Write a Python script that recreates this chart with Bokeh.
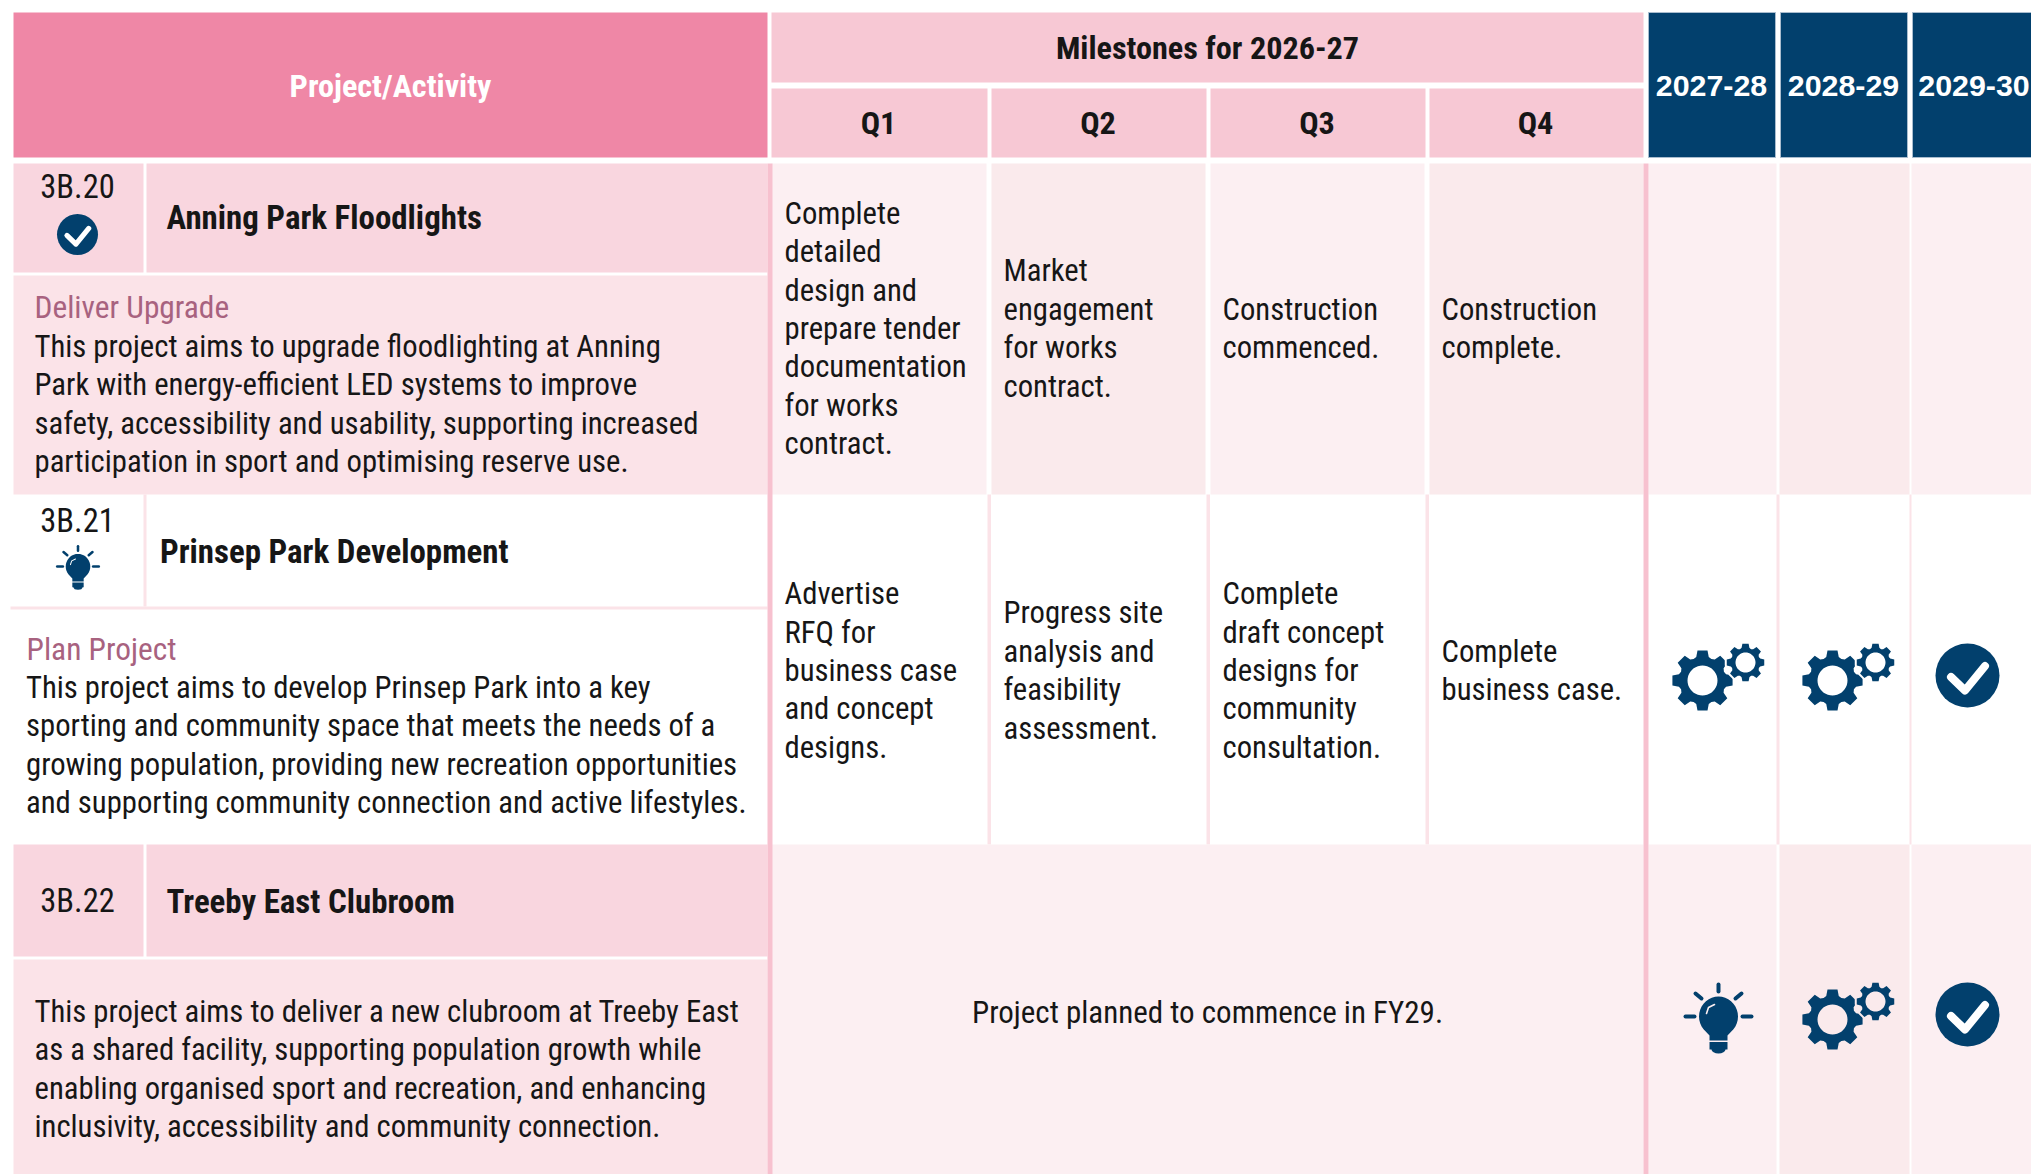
import math
from bokeh.plotting import figure
from bokeh.models import Range1d
from bokeh.core.properties import value
from bokeh.embed import file_html
from bokeh.resources import INLINE

# ---- table content ----
head_project = "Project/Activity"
head_milestones = "Milestones for 2026-27"
quarters = ["Q1", "Q2", "Q3", "Q4"]
years = ["2027-28", "2028-29", "2029-30"]
ids = ["3B.20", "3B.21", "3B.22"]
titles = ["Anning Park Floodlights", "Prinsep Park Development", "Treeby East Clubroom"]
kinds = ["Deliver Upgrade", "Plan Project", ""]
desc_1 = ["This project aims to upgrade floodlighting at Anning",
          "Park with energy-efficient LED systems to improve",
          "safety, accessibility and usability, supporting increased",
          "participation in sport and optimising reserve use."]
desc_2 = ["This project aims to develop Prinsep Park into a key",
          "sporting and community space that meets the needs of a",
          "growing population, providing new recreation opportunities",
          "and supporting community connection and active lifestyles."]
desc_3 = ["This project aims to deliver a new clubroom at Treeby East",
          "as a shared facility, supporting population growth while",
          "enabling organised sport and recreation, and enhancing",
          "inclusivity, accessibility and community connection."]
m1 = [["Complete", "detailed", "design and", "prepare tender", "documentation", "for works", "contract."],
      ["Market", "engagement", "for works", "contract."],
      ["Construction", "commenced."],
      ["Construction", "complete."]]
m2 = [["Advertise", "RFQ for", "business case", "and concept", "designs."],
      ["Progress site", "analysis and", "feasibility", "assessment."],
      ["Complete", "draft concept", "designs for", "community", "consultation."],
      ["Complete", "business case."]]
m3_note = "Project planned to commence in FY29."
status_row2 = ["gears", "gears", "check"]
status_row3 = ["bulb", "gears", "check"]

# ---- layout (page pixels) ----
FONT = "Roboto Condensed"
NAVY = "#02406D"
INK = "#161616"
SZ = "30.7px"
BOLD = "32.2px"
TITLE = "32.9px"
LH = 38.4
LIGHT = "#FCEFF2"
DARK = "#FAEAEC"
q_edges = [(771, 987), (991, 1206), (1210, 1425), (1429, 1643)]
q_text_x = [784, 1003, 1222, 1441]
y_edges = [(1648, 1776), (1779, 1909), (1911, 2031)]
y_head = [(1648, 1775), (1780, 1907), (1912, 2032)]
rows = [(163, 494), (494, 844), (844, 1174)]
title_bot = [272, 606, 956]
desc_top = [275, 609, 959]

p = figure(width=2031, height=1174, x_range=Range1d(0, 2031), y_range=Range1d(1174, 0),
           output_backend="svg", toolbar_location=None, min_border=0, outline_line_color=None,
           background_fill_color="white", border_fill_color="white")
p.axis.visible = False
p.grid.visible = False


def box(x0, x1, y0, y1, c):
    p.quad(left=[x0], right=[x1], top=[y0], bottom=[y1], fill_color=c, line_color=None)


def txt(x, y, s, size=SZ, color=INK, align="left", bold=False, font=FONT):
    p.text([x], [y], text=[s], text_font=value(font), text_font_size=value(size),
           text_color=color, text_align=align, text_baseline="middle",
           text_font_style="bold" if bold else "normal")


def gear(cx, cy, r, hole, halo=None):
    xs, ys = [], []
    teeth = 8
    for i in range(teeth):
        a = 2 * math.pi * i / teeth - math.pi / 2
        w = math.pi / teeth
        for da, f in [(-0.66 * w, 0.80), (-0.42 * w, 1.0), (0.42 * w, 1.0), (0.66 * w, 0.80), (w, 0.76)]:
            xs.append(cx + r * f * math.cos(a + da))
            ys.append(cy + r * f * math.sin(a + da))
    if halo:
        p.patch(xs, ys, fill_color=halo, line_color=halo, line_width=4)
    hxs = [cx + hole * math.cos(2 * math.pi * k / 40) for k in range(40)]
    hys = [cy + hole * math.sin(2 * math.pi * k / 40) for k in range(40)]
    p.multi_polygons(xs=[[[xs, hxs]]], ys=[[[ys, hys]]], fill_color=NAVY, line_color=None)


def gears(x, cy, bg):
    gear(x, cy, 30.5, 15)
    gear(x + 43, cy - 18, 19, 10, halo=bg)


def check(cx, cy, r):
    p.circle([cx], [cy], radius=r, fill_color=NAVY, line_color=None)
    k = r / 32
    p.line([cx - 16.5 * k, cx - 2.5 * k, cx + 17.5 * k], [cy + 1.5 * k, cy + 15 * k, cy - 9.5 * k],
           line_color="white", line_width=8 * k, line_cap="round", line_join="round")


def bulb(cx, gy, k, fill):
    t = [math.radians(a) for a in range(140, 401, 10)]
    xs = [cx + 19.5 * k * math.cos(a) for a in t]
    ys = [gy + 20 * k * math.sin(a) for a in t]
    xs += [cx + 9 * k, cx + 9 * k, cx - 9 * k, cx - 9 * k]
    ys += [gy + 19 * k, gy + 24 * k, gy + 24 * k, gy + 19 * k]
    p.patch(xs, ys, fill_color=NAVY, line_color=None)
    p.quad(left=[cx - 9 * k], right=[cx + 9 * k], top=[gy + 25.5 * k], bottom=[gy + 33 * k],
           fill_color=NAVY, line_color=None)
    p.ellipse([cx], [gy + 33 * k], width=[14 * k], height=[8 * k], fill_color=NAVY, line_color=None)
    rays = [((0, -32), (0, -25)), ((-23, -23), (-17, -18)), ((23, -23), (17, -18)),
            ((-33, 0), (-24, 0)), ((33, 0), (24, 0))]
    for a, b in rays:
        p.line([cx + a[0] * k, cx + b[0] * k], [gy + a[1] * k, gy + b[1] * k], line_color=NAVY,
               line_width=4 * k, line_cap="round")
    p.line([cx - 12 * k, cx - 10 * k, cx - 4 * k], [gy - 3 * k, gy - 9 * k, gy - 12 * k], line_color=fill,
           line_width=1.6 * k, line_cap="round")


# header
box(13, 767, 12, 157, "#EF87A6")
box(771, 1643, 12, 82, "#F7C8D4")
for a, b in q_edges:
    box(a, b, 88, 157, "#F7C8D4")
for a, b in y_head:
    p.quad(left=[a], right=[b], top=[12], bottom=[157], fill_color=NAVY,
           line_color="#A9BCCE", line_width=1)
txt(390, 85, head_project, size=BOLD, color="white", align="center", bold=True)
txt(1207, 47, head_milestones, size=BOLD, align="center", bold=True)
for (a, b), q in zip(q_edges, quarters):
    txt((a + b) / 2 - 1, 122, q, size=BOLD, align="center", bold=True)
for cx, y in zip([1711, 1843, 1973.5], years):
    txt(cx, 85, y, size="30.4px", color="white", align="center", bold=True, font="Liberation Sans")

# left cells: row 1 and row 3 are shaded, row 2 is white with pale rules
for r in (0, 2):
    box(13, 143, rows[r][0], title_bot[r], "#F9D6DF")
    box(146, 767, rows[r][0], title_bot[r], "#F9D6DF")
    box(13, 767, desc_top[r], rows[r][1], "#FBE3E8")
box(143, 146, 494, 606, "#FBE3E8")
box(10, 767, 606, 609, "#FBE3E8")

# milestone cells
for i, (a, b) in enumerate(q_edges):
    box(a, b + (0 if i == 3 else -1), 163, 494, DARK if i % 2 else LIGHT)
for i, (a, b) in enumerate(y_edges):
    c = DARK if i == 1 else LIGHT
    box(a, b, 163, 494, c)
    box(a, b, 844, 1174, c)
for a in (987, 1206, 1425):
    box(a, a + 3.5, 494, 844, "#FBE3E8")
box(1776, 1779, 494, 844, "#FBE3E8")
box(1909, 1911, 494, 844, "#FBE3E8")
box(771, 1643, 844, 1174, LIGHT)
box(767, 772, 163, 1174, "#F7C1CF")
box(1643, 1648, 163, 1174, "#F7C1CF")

# left texts
for i, yy in enumerate([186, 520, 900.5]):
    txt(77, yy, ids[i], size="32.5px", align="center")
for s, x, yy in zip(titles, [166, 159.5, 166], [217, 551, 900.5]):
    txt(x, yy, s, size=TITLE, bold=True)
txt(34, 307, kinds[0], size="31.4px", color="#A8627F")
txt(26, 649, kinds[1], size="31.4px", color="#A8627F")
for lines, x, y0 in [(desc_1, 34, 346), (desc_2, 25.5, 687), (desc_3, 34, 1011)]:
    for j, s in enumerate(lines):
        txt(x, y0 + j * LH, s)

# milestone texts
for cells, cy in [(m1, 328), (m2, 670)]:
    for x, lines in zip(q_text_x, cells):
        for j, s in enumerate(lines):
            txt(x, cy + (j - (len(lines) - 1) / 2) * LH, s)
txt(1207, 1011.5, m3_note, size="31px", align="center")

# status icons
check(77, 234, 20.5)
bulb(77.5, 566, 0.63, "white")
for x, kind in zip([1702, 1832, 1967], status_row2):
    gears(x, 680, "white") if kind == "gears" else check(x, 675, 32)
for x, kind in zip([1718, 1832, 1967], status_row3):
    if kind == "gears":
        gears(x, 1019, DARK)
    elif kind == "bulb":
        bulb(x, 1016, 1.0, LIGHT)
    else:
        check(x, 1014, 32)

open("out.html", "w").write(file_html(p, INLINE))
